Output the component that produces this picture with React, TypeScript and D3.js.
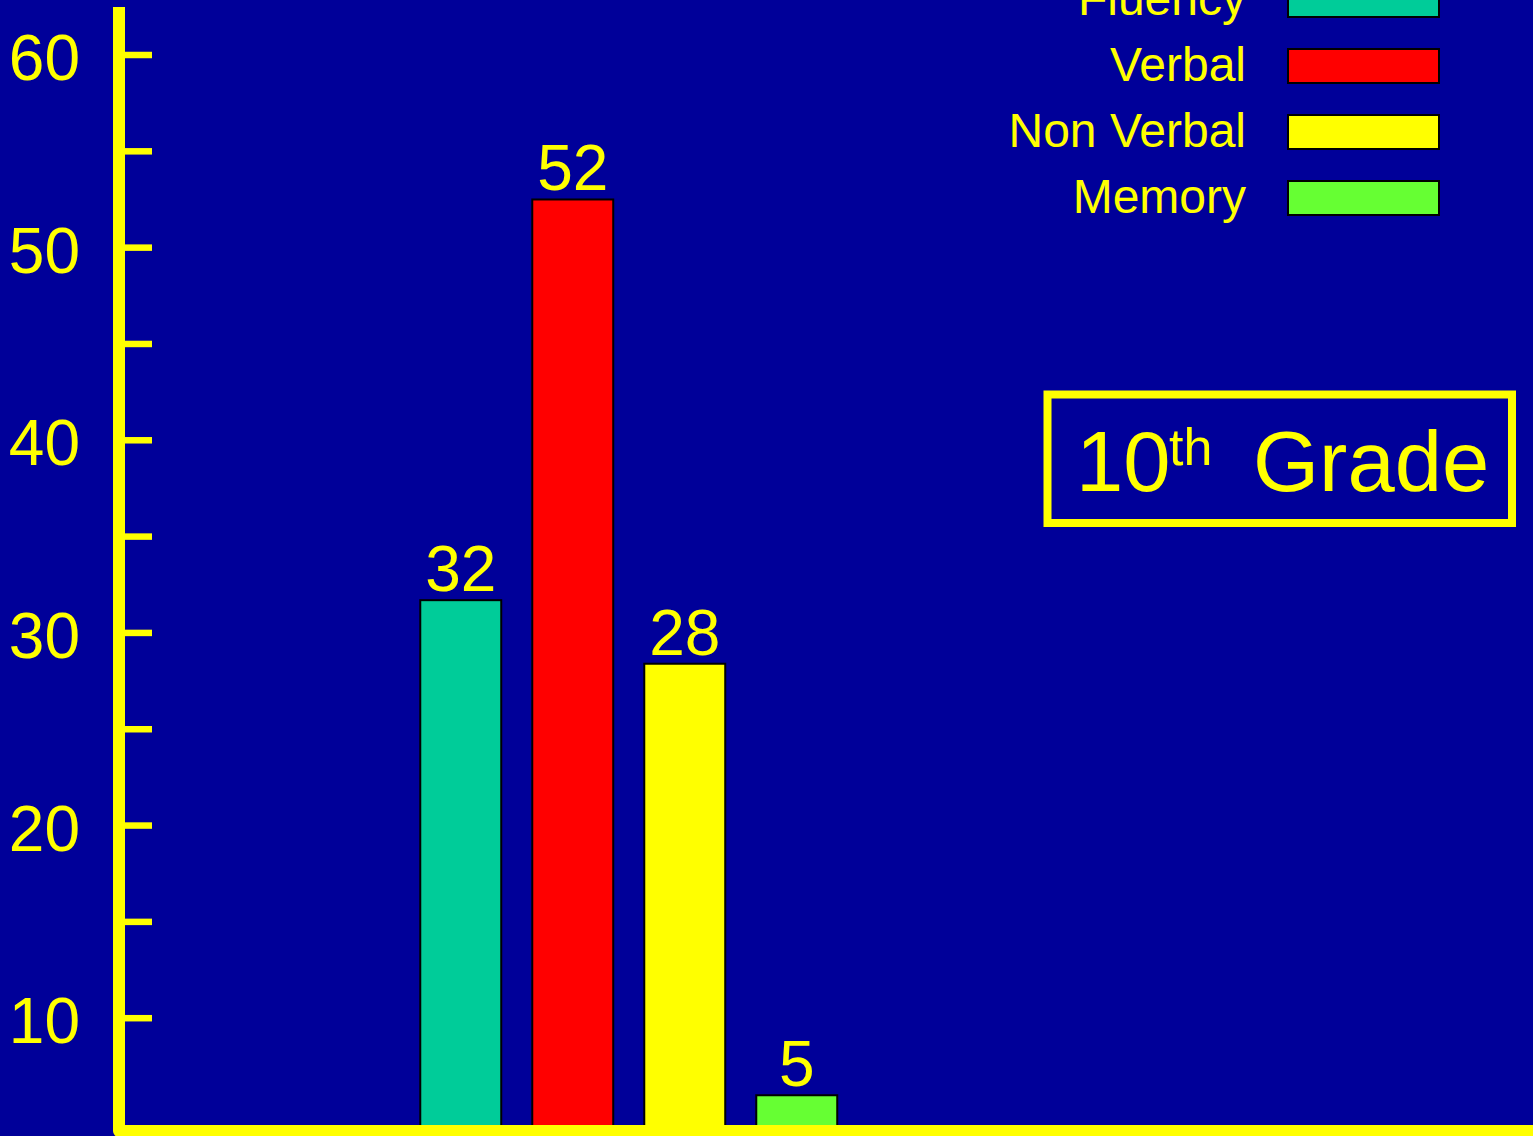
import React from 'react';
import * as d3 from 'd3';

// bar data (labels are the printed numbers, values as drawn)
const categories = ['Fluency', 'Verbal', 'Non Verbal', 'Memory'];
const barValues = [31.7, 52.5, 28.4, 6.0];
const barLabels = ['32', '52', '28', '5'];
const colors = ['#00CC99', '#FF0000', '#FFFF00', '#66FF33'];

const yTicks = [10, 15, 20, 25, 30, 35, 40, 45, 50, 55, 60];
const yTickLabels = ['10', '20', '30', '40', '50', '60'];

const W = 1533;
const H = 1136;
const BG = '#000099';
const YEL = '#FFFF00';
const FONT = "'Liberation Sans', Arial, Helvetica, sans-serif";

export default function App() {
  // the axis floor sits a little above zero in the original
  const y = d3.scaleLinear().domain([4.3, 60]).range([1128, 55]);
  const x = d3.scaleBand().domain(categories).range([404.75, 852.75])
    .paddingInner(0.277).paddingOuter(0.1385);

  const legendY = d3.scaleLinear().domain([0, 3]).range([0, 198]);

  const axisPath = d3.line()([[119, 7], [119, 1131], [W + 10, 1131]]) || '';

  return (
    <svg width={W} height={H} style={{ position: 'absolute', left: 0, top: 0, display: 'block' }}
      fontFamily={FONT}>
      <rect x={0} y={0} width={W} height={H} fill={BG} />

      {/* bars */}
      {categories.map((c, i) => (
        <g key={c}>
          <rect x={x(c)} y={y(barValues[i])} width={x.bandwidth()}
            height={y.range()[0] - y(barValues[i])}
            fill={colors[i]} stroke="#000" strokeWidth={2} />
          <text x={(x(c) || 0) + x.bandwidth() / 2} y={y(barValues[i]) - 9}
            textAnchor="middle" fontSize={64} fill={YEL}>{barLabels[i]}</text>
        </g>
      ))}

      {/* axes */}
      {yTicks.map(t => (
        <line key={t} x1={125} x2={152} y1={y(t)} y2={y(t)} stroke={YEL} strokeWidth={6.5} />
      ))}
      {yTickLabels.map(t => (
        <text key={t} x={80} y={y(+t) + 25} textAnchor="end" fontSize={64} fill={YEL}>{t}</text>
      ))}
      <path d={axisPath} fill="none" stroke={YEL} strokeWidth={12} strokeLinejoin="round" />

      {/* legend */}
      {categories.map((c, i) => (
        <g key={'lg' + c}>
          <rect x={1288} y={legendY(i) - 17} width={151} height={34}
            fill={colors[i]} stroke="#000" strokeWidth={2} />
          <text x={1246} y={legendY(i) + 15} textAnchor="end" fontSize={48} fill={YEL}>{c}</text>
        </g>
      ))}

      {/* title box */}
      <rect x={1047.5} y={394.5} width={464.5} height={128.5} fill="none" stroke={YEL} strokeWidth={8} />
      <text x={1076} y={491} fontSize={85} fill={YEL}>10</text>
      <text x={1169} y={465} fontSize={52} fill={YEL}>th</text>
      <text x={1253} y={491} fontSize={85} fill={YEL}>Grade</text>
    </svg>
  );
}
